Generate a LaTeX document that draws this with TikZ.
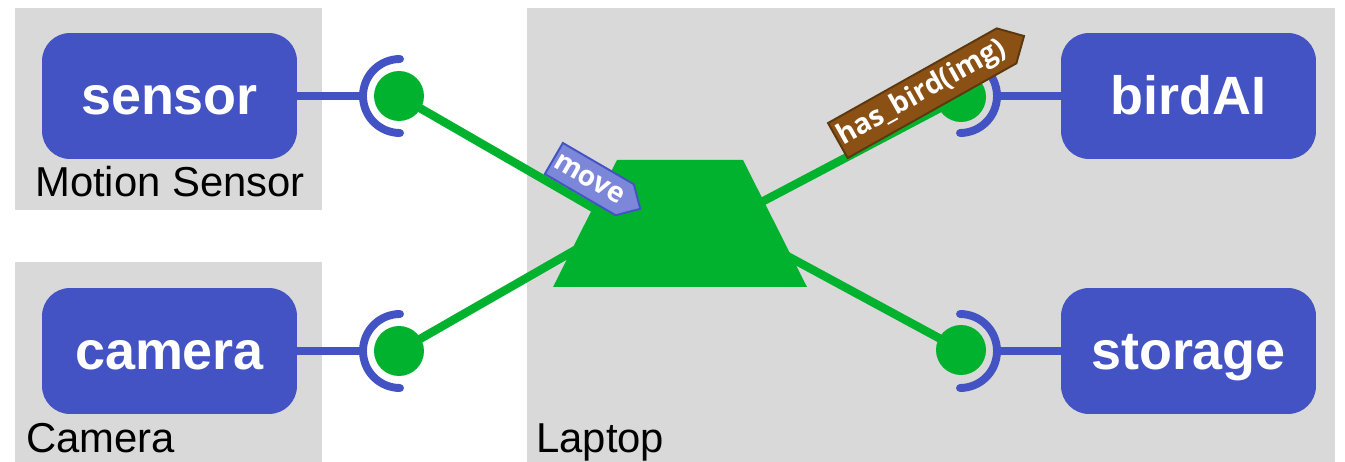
\documentclass[tikz,border=0pt]{standalone}
\usepackage{fontspec}
\setmainfont{Liberation Sans}
\newfontfamily\tagfont{Open Sans}
\usetikzlibrary{shapes.symbols}
\definecolor{grp}{RGB}{217,217,217}
\definecolor{blu}{RGB}{67,83,196}
\definecolor{grn}{RGB}{0,178,45}
\definecolor{movefill}{RGB}{125,135,217}
\definecolor{brn}{RGB}{139,80,20}
\definecolor{brnd}{RGB}{92,56,14}
\begin{document}
\begin{tikzpicture}[x=0.02cm,y=-0.02cm,
  grpbox/.style={fill=grp},
  compbox/.style={rectangle, rounded corners=0.56cm, fill=blu, minimum width=5.1cm,
    minimum height=2.52cm, inner sep=0pt, text=white,
    font=\fontsize{30.7}{36}\selectfont\bfseries, text height=0.76cm, text depth=0pt},
  grplbl/.style={font=\fontsize{23.8}{28}\selectfont, inner sep=0pt},
  stub/.style={draw=blu, line width=4.5pt},
  sock/.style={draw=blu, line width=4.5pt, line cap=round},
  wire/.style={draw=grn, line width=4.8pt},
  ball/.style={circle, fill=grn, minimum size=1cm, inner sep=0pt},
  tagbox/.style={signal, signal to=east, signal pointer angle=90, text=white,
    font=\tagfont\bfseries\fontsize{16}{18}\selectfont, inner xsep=0.05cm,
    line width=1.1pt, anchor=west}
]
\useasboundingbox (0,0) rectangle (1345,462);
% groups
\fill[grpbox] (15,8) rectangle (322,210);
\fill[grpbox] (15,262) rectangle (322,462);
\fill[grpbox] (527,8) rectangle (1335,462);
\node[grplbl, anchor=base] (lms) at (170,197) {Motion Sensor};
\node[grplbl, anchor=base west] (lcam) at (26,452) {Camera};
\node[grplbl, anchor=base west] (llap) at (536,452) {Laptop};
% components
\node[compbox] (sensor) at (169.5,96) {sensor};
\node[compbox] (camera) at (169.5,351) {camera};
\node[compbox] (birdai) at (1188.5,96) {birdAI};
\node[compbox] (storage) at (1188.5,351) {storage};
% socket arcs and stubs
\coordinate (sarc) at (363,96);
\coordinate (carc) at (363,351);
\coordinate (barc) at (997,96);
\coordinate (tarc) at (997,351);
\draw[stub] (sensor.east) -- (sarc);
\draw[stub] (camera.east) -- (carc);
\draw[stub] (birdai.west) -- (barc);
\draw[stub] (storage.west) -- (tarc);
\draw[sock] (400,59) arc[start angle=270, end angle=90, radius=37];
\draw[sock] (400,314) arc[start angle=270, end angle=90, radius=37];
\draw[sock] (960,59) arc[start angle=270, end angle=450, radius=37];
\draw[sock] (960,314) arc[start angle=270, end angle=450, radius=37];
% balls
\node[ball] (sball) at (399,96) {};
\node[ball] (cball) at (399,351) {};
\node[ball] (bball) at (961,97) {};
\node[ball] (tball) at (961,350) {};
% laptop trapezoid ports
\coordinate (ps) at (680,258);
\coordinate (pc) at (680,190);
\coordinate (pb) at (680,245);
\coordinate (pt) at (680,198);
\draw[wire] (sball.center) -- (ps);
\draw[wire] (cball.center) -- (pc);
\draw[wire] (bball.center) -- (pb);
\draw[wire] (tball.center) -- (pt);
\fill[grn] (617,160) -- (743,160) -- (807,287) -- (553,287) -- cycle;
\coordinate (lap) at (680,223);
% tags
\node[tagbox, fill=movefill, draw=blu, inner ysep=0.2cm, rotate=-30.2] (movetag) at (553,158) {move};
\node[tagbox, fill=brn, draw=brnd, inner ysep=0.12cm, rotate=29.3] (birdtag) at (837,141) {has\_bird(img)};
\end{tikzpicture}
\end{document}
